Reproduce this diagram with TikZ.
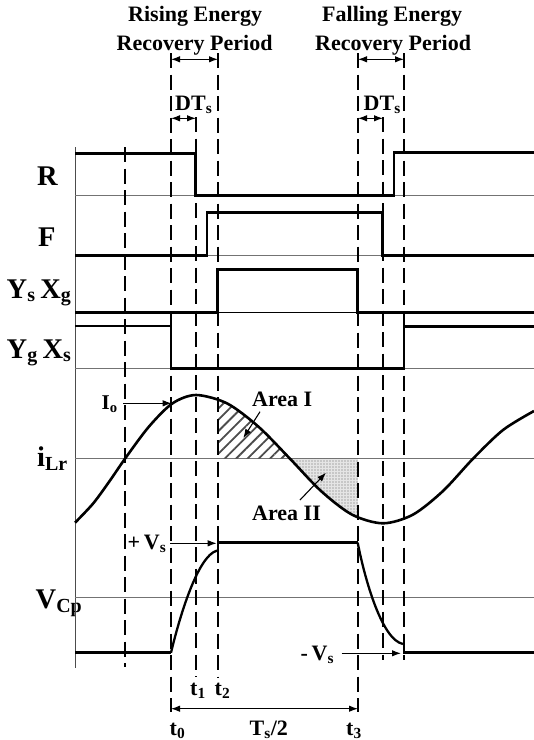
\documentclass[tikz,border=0pt]{standalone}
\usepackage{fontspec}
\setmainfont{Liberation Serif}
\usetikzlibrary{arrows.meta,patterns.meta}
\newcommand{\sbs}[1]{\textsubscript{#1}}
\begin{document}
\begin{tikzpicture}[x=1pt,y=-1pt,
  sig/.style={line width=2.8pt, line join=miter},
  baseln/.style={line width=0.9pt, draw=black!55},
  guide/.style={line width=1.8pt, dash pattern=on 15pt off 6.5pt},
  dim/.style={line width=1.1pt, {Latex[length=9pt,width=6.5pt]}-{Latex[length=9pt,width=6.5pt]}},
  pointer/.style={line width=1.1pt, -{Latex[length=9pt,width=6.5pt]}},
  lbl/.style={font=\fontsize{22}{25}\selectfont\bfseries, inner sep=0pt, anchor=base west},
  rowlbl/.style={font=\fontsize{28.5}{31}\selectfont\bfseries, inner sep=0pt, anchor=base west}]
\useasboundingbox (0,0) rectangle (534,740);

% ---------- titles ----------
\node[lbl] (rt1) at (128,21.7) {Rising Energy};
\node[lbl] (rt2) at (116.5,50) {Recovery Period};
\node[lbl] (ft1) at (322,21.7) {Falling Energy};
\node[lbl] (ft2) at (315,50) {Recovery Period};
\node[lbl] (dt1) at (175,110) {DT\sbs{s}};
\node[lbl] (dt2) at (363.5,110) {DT\sbs{s}};

% ---------- row labels ----------
\node[rowlbl] (lR) at (37,185) {R};
\node[rowlbl] (lF) at (38,246) {F};
\node[rowlbl] (lY1) at (6.5,298) {Y\sbs{s}\,X\sbs{g}};
\node[rowlbl] (lY2) at (6.5,358) {Y\sbs{g}\,X\sbs{s}};
\node[rowlbl] (lI) at (37,466) {i\sbs{Lr}};
\node[rowlbl] (lV) at (35.5,608) {V\sbs{Cp}};

% ---------- guide coordinates ----------
\coordinate (ga) at (125,147);   \coordinate (gab) at (125,667);
\coordinate (g0) at (171,53);    \coordinate (g0b) at (171,712);
\coordinate (g1) at (196,117);   \coordinate (g1b) at (196,677);
\coordinate (g2) at (218,53);    \coordinate (g2b) at (218,677);
\coordinate (g3) at (358,53);    \coordinate (g3b) at (358,712);
\coordinate (g4) at (383,117);   \coordinate (g4b) at (383,660);
\coordinate (g5) at (404,53);    \coordinate (g5b) at (404,660);

% ---------- baselines & axis ----------
\draw[line width=0.9pt, black!70] (75.3,147) -- (75.3,668);
\draw[baseln] (75,195.3) -- (534,195.3);
\draw[baseln] (75,255.3) -- (534,255.3);
\draw[line width=0.8pt, black] (75,312.3) -- (534,312.3);
\draw[baseln] (75,368.3) -- (534,368.3);
\draw[baseln] (75,458.7) -- (534,458.7);
\draw[baseln] (75,597.7) -- (534,597.7);

% ---------- shaded areas ----------
\begin{scope}
  \clip plot[smooth] coordinates {(75,522.7) (93.3,503.3) (110,480.5) (125,458.7) (148.7,426.9) (172.3,403.5) (196,395) (227.3,403.5) (258.7,426.9) (290,458.7) (321,491) (352,514.6) (383,523.3) (413,514.6) (443,491) (473,458.7) (503,430) (534,411)} -- (534,458.7) -- (75,458.7) -- cycle;
  \fill[pattern={Lines[angle=45,distance=8pt,line width=1.8pt]}, pattern color=black!70]
    (218,380) rectangle (292,458.7);
  \fill[black!10] (288,458.7) rectangle (358,540);
  \fill[pattern={Dots[distance=3pt,radius=0.7pt]}, pattern color=black!60]
    (288,458.7) rectangle (358,540);
\end{scope}

% ---------- guides ----------
\draw[guide] (ga) -- (gab);
\draw[guide] (g0) -- (g0b);
\draw[guide] (g1) -- (g1b);
\draw[guide] (g2) -- (g2b);
\draw[guide] (g3) -- (g3b);
\draw[guide] (g4) -- (g4b);
\draw[guide] (g5) -- (g5b);

% ---------- dimension arrows ----------
\coordinate (p0) at (171,59.3); \coordinate (p2) at (218,59.3);
\coordinate (p3) at (358,59.3); \coordinate (p5) at (404,59.3);
\draw[dim] (p0) -- (p2);
\draw[dim] (p3) -- (p5);
\coordinate (d0) at (171,118.3); \coordinate (d1) at (196,118.3);
\coordinate (d3) at (358,118.3); \coordinate (d4) at (383,118.3);
\draw[dim] (d0) -- (d1);
\draw[dim] (d3) -- (d4);
\coordinate (b0) at (171,708.7); \coordinate (b3) at (358,708.7);
\draw[dim] (b0) -- (b3);

% ---------- logic signals ----------
\draw[sig] (75,153.3) -- (195.5,153.3) -- (195.5,195.3) -- (394,195.3) -- (394,152.5) -- (534,152.5);
\draw[sig] (75,255.3) -- (207,255.3) -- (207,212.7) -- (382.5,212.7) -- (382.5,255.3) -- (534,255.3);
\draw[sig] (75,312.3) -- (217.7,312.3) -- (217.7,269.5) -- (357.7,269.5) -- (357.7,312.3) -- (534,312.3);
\draw[sig] (75,326) -- (171,326) -- (171,368.3) -- (404,368.3) -- (404,326.5) -- (534,326.5);

% ---------- iLr ----------
\draw[line width=2.6pt] plot[smooth] coordinates {(75,522.7) (93.3,503.3) (110,480.5) (125,458.7) (148.7,426.9) (172.3,403.5) (196,395) (227.3,403.5) (258.7,426.9) (290,458.7) (321,491) (352,514.6) (383,523.3) (413,514.6) (443,491) (473,458.7) (503,430) (534,411)};

% ---------- VCp ----------
\draw[sig] (75,652.7) -- (171,652.7);
\draw[line width=2.3pt] (171,652.7) .. controls (180,615) and (198,556) .. (216.7,550.7) -- (218,550.7);
\draw[sig] (218,551) -- (218,542.7) -- (357.7,542.7);
\draw[line width=2.3pt] (357.7,542.7) .. controls (365,580) and (382,640) .. (403,644);
\draw[sig] (403,644) -- (404,644) -- (404,652.7) -- (534,652.7);

% ---------- annotations ----------
\node[lbl, font=\fontsize{21}{24}\selectfont\bfseries] (lIo) at (101.5,409.5) {I\sbs{o}};
\coordinate (io1) at (123.3,403.3); \coordinate (io2) at (171.7,403.3);
\draw[pointer] (io1) -- (io2);

\node[lbl] (lA1) at (252,406.7) {Area I};
\coordinate (a1s) at (260,411.7); \coordinate (a1e) at (243.3,438);
\draw[pointer] (a1s) -- (a1e);
\node[lbl] (lA2) at (252,520) {Area II};
\coordinate (a2s) at (300,500); \coordinate (a2e) at (326,472.7);
\draw[pointer] (a2s) -- (a2e);

\node[lbl] (lpv) at (127.5,549.3) {+\,V\sbs{s}};
\coordinate (pv1) at (170,543.3); \coordinate (pv2) at (216.7,543.3);
\draw[pointer] (pv1) -- (pv2);
\node[lbl] (lmv) at (300.5,660) {-\,V\sbs{s}};
\coordinate (mv1) at (341.7,653.3); \coordinate (mv2) at (401,653.3);
\draw[pointer] (mv1) -- (mv2);

\node[lbl] (lt1) at (190,695) {t\sbs{1}};
\node[lbl] (lt2) at (214.5,695) {t\sbs{2}};
\node[lbl] (lt0) at (169.5,735) {t\sbs{0}};
\node[lbl] (lts) at (249.5,735) {T\sbs{s}/2};
\node[lbl] (lt3) at (346,735) {t\sbs{3}};
\end{tikzpicture}
\end{document}
